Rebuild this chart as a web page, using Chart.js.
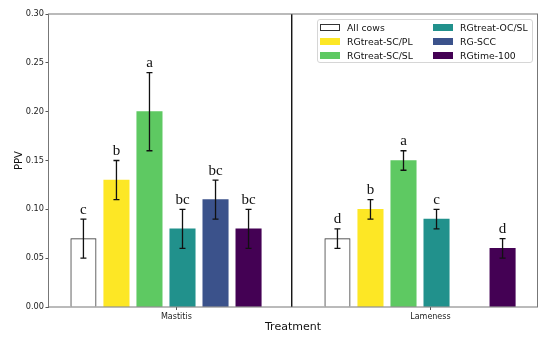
<!DOCTYPE html>
<html><head><meta charset="utf-8">
<script src="https://cdn.jsdelivr.net/npm/chart.js@4/dist/chart.umd.min.js"></script>
<style>
html,body{margin:0;padding:0;background:#fff;}
#wrap{position:relative;width:550px;height:340px;}
#legend{position:absolute;left:317px;top:19px;width:214px;height:42px;border:1px solid #d6d6d6;border-radius:3px;background:rgba(255,255,255,0.85);display:grid;grid-auto-flow:column;grid-template-rows:repeat(3,14px);grid-template-columns:113px 101px;font-family:"DejaVu Sans",sans-serif;font-size:9.3px;color:#111;}
.item{display:flex;align-items:center;padding-left:2px;white-space:nowrap;}
.sw{width:20px;height:7px;box-sizing:border-box;margin-right:7px;flex:none;}
</style></head>
<body><div id="wrap"><canvas id="c" width="550" height="340"></canvas><div id="legend"></div></div>
<script>
const categories = ['Mastitis', 'Lameness'];
const seriesNames = ['All cows', 'RGtreat-SC/PL', 'RGtreat-SC/SL', 'RGtreat-OC/SL', 'RG-SCC', 'RGtime-100'];
const mastitisPPV = [0.07, 0.13, 0.20, 0.08, 0.11, 0.08];
const mastitisErr = [0.02, 0.02, 0.04, 0.02, 0.02, 0.02];
const mastitisLetters = ['c', 'b', 'a', 'bc', 'bc', 'bc'];
const lamenessPPV = [0.07, 0.10, 0.15, 0.09, null, 0.06];
const lamenessErr = [0.01, 0.01, 0.01, 0.01, null, 0.01];
const lamenessLetters = ['d', 'b', 'a', 'c', null, 'd'];
const yTickValues = [0, 0.05, 0.10, 0.15, 0.20, 0.25, 0.30];
const yTickLabels = ['0.00', '0.05', '0.10', '0.15', '0.20', '0.25', '0.30'];

// styles / layout (not data)
const seriesColors = ['#ffffff', '#fde725', '#5ec962', '#21918c', '#3b528b', '#440154'];
const seriesBorders = ['#333333', '#fde725', '#5ec962', '#21918c', '#3b528b', '#440154'];
const BAR_STEP = 0.13, TICK_OFFSET = 0.366, SEPARATOR_X = 0.82;

const ppv = [mastitisPPV, lamenessPPV];
const errs = [mastitisErr, lamenessErr];
const letters = [mastitisLetters, lamenessLetters];

const datasets = seriesNames.map((name, s) => ({
  label: name,
  data: categories.map((c, ci) => ({x: ci + s * BAR_STEP, y: ppv[ci][s]})),
  backgroundColor: seriesColors[s],
  borderColor: seriesBorders[s],
  borderWidth: s === 0 ? 1 : 0
}));

const overlay = {
  id: 'overlay',
  afterDatasetsDraw(chart) {
    const {ctx, chartArea: a, scales: {x, y}} = chart;
    ctx.save();
    chart.data.datasets.forEach((ds, s) => {
      ds.data.forEach((pt, ci) => {
        if (pt.y == null) return;
        const e = errs[ci][s];
        const px = x.getPixelForValue(pt.x);
        const yHi = y.getPixelForValue(pt.y + e), yLo = y.getPixelForValue(pt.y - e);
        ctx.strokeStyle = '#111';
        ctx.lineWidth = 1.3;
        ctx.beginPath();
        ctx.moveTo(px, yHi); ctx.lineTo(px, yLo);
        ctx.moveTo(px - 3, yHi); ctx.lineTo(px + 3, yHi);
        ctx.moveTo(px - 3, yLo); ctx.lineTo(px + 3, yLo);
        ctx.stroke();
        const l = letters[ci][s];
        if (l) {
          ctx.fillStyle = '#111';
          ctx.font = '15px "Liberation Serif", serif';
          ctx.textAlign = 'center';
          ctx.textBaseline = 'alphabetic';
          ctx.fillText(l, px, yHi - 5.5);
        }
      });
    });
    // separator
    const sx = x.getPixelForValue(SEPARATOR_X);
    ctx.strokeStyle = '#111';
    ctx.lineWidth = 1.4;
    ctx.beginPath(); ctx.moveTo(sx, a.top); ctx.lineTo(sx, a.bottom); ctx.stroke();
    // frame
    ctx.strokeStyle = '#777';
    ctx.lineWidth = 1;
    ctx.strokeRect(a.left, a.top, a.right - a.left, a.bottom - a.top);
    ctx.restore();
  }
};

const chart = new Chart(document.getElementById('c'), {
  type: 'bar',
  data: {datasets},
  plugins: [overlay],
  options: {
    responsive: false,
    animation: false,
    layout: {padding: {top: 14, right: 12.5, left: 0, bottom: 0}},
    plugins: {legend: {display: false}, tooltip: {enabled: false}},
    datasets: {bar: {grouped: false, barThickness: 25.4}},
    scales: {
      x: {
        type: 'linear',
        offset: false,
        min: -0.1375, max: 1.7875,
        afterBuildTicks: s => { s.ticks = categories.map((c, i) => ({value: i + TICK_OFFSET})); },
        ticks: {callback: (v, i) => categories[i], font: {family: 'DejaVu Sans', size: 8}, color: '#222', padding: 2, maxRotation: 0, autoSkip: false},
        grid: {display: true, offset: false, drawOnChartArea: false, drawTicks: true, tickLength: 3, color: '#555'},
        border: {display: false},
        title: {display: true, text: 'Treatment', font: {family: 'DejaVu Sans', size: 11}, color: '#111', padding: {top: 0, bottom: 6.4}},
        afterFit: s => { s.height = 33; }
      },
      y: {
        min: 0, max: 0.3,
        afterBuildTicks: s => { s.ticks = yTickValues.map(v => ({value: v})); },
        ticks: {callback: (v, i) => yTickLabels[i], font: {family: 'DejaVu Sans', size: 8.2}, color: '#222', padding: 1.5},
        grid: {display: true, drawOnChartArea: false, drawTicks: true, tickLength: 3, color: '#555'},
        border: {display: false},
        title: {display: true, text: 'PPV', font: {family: 'DejaVu Sans', size: 10}, color: '#111', padding: {top: 13.5, bottom: 0}},
        afterFit: s => { s.width = 48.5; }
      }
    }
  }
});

const lg = document.getElementById('legend');
chart.data.datasets.forEach((ds) => {
  const it = document.createElement('div'); it.className = 'item';
  const sw = document.createElement('span'); sw.className = 'sw';
  sw.style.background = ds.backgroundColor;
  sw.style.border = '1px solid ' + ds.borderColor;
  const t = document.createElement('span'); t.textContent = ds.label;
  it.appendChild(sw); it.appendChild(t); lg.appendChild(it);
});
</script></body></html>
